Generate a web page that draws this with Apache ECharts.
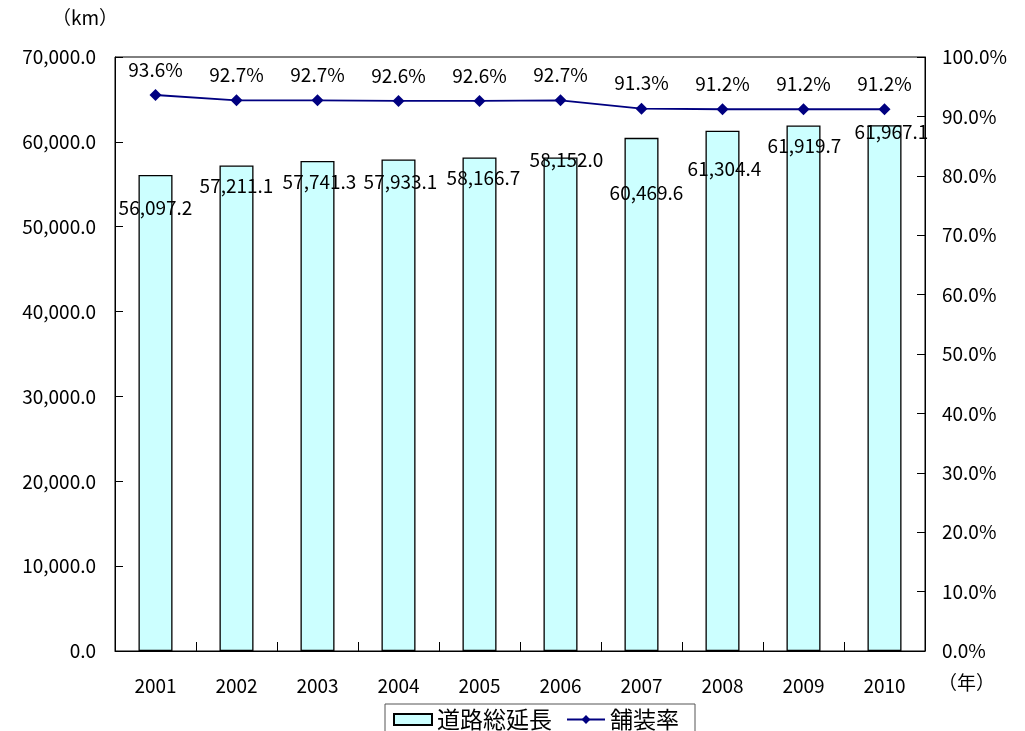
<!DOCTYPE html>
<html>
<head>
<meta charset="utf-8">
<script src="https://cdn.jsdelivr.net/npm/echarts@6/dist/echarts.min.js"></script>
<style>
  html, body { margin: 0; padding: 0; background: #fff; }
  #chart { width: 1025px; height: 731px; }
</style>
</head>
<body>
<div id="chart"></div>
<script>
// Road network length (km) and paved ratio (%) by year
const years = ['2001', '2002', '2003', '2004', '2005', '2006', '2007', '2008', '2009', '2010'];
const roadLength = [56097.2, 57211.1, 57741.3, 57933.1, 58166.7, 58152.0, 60469.6, 61304.4, 61919.7, 61967.1];
const pavedRate = [93.6, 92.7, 92.7, 92.6, 92.6, 92.7, 91.3, 91.2, 91.2, 91.2];

// Hand-placed label nudges [dx, dy] for the length labels
const lengthLabelNudge = [[0, 42], [0, 30], [2, 30], [2, 32], [4, 30], [6, 12], [5, 64], [2, 47], [1, 30], [7, 16]];

const FONT = '"Noto Sans CJK JP", "Noto Sans", sans-serif';
const NUM_SIZE = 19;

const fmtLength = v => v.toLocaleString('en-US', { minimumFractionDigits: 1, maximumFractionDigits: 1 });

const chart = echarts.init(document.getElementById('chart'), null, { renderer: 'canvas' });

chart.setOption({
  backgroundColor: '#ffffff',
  animation: false,
  textStyle: { fontFamily: FONT, color: '#000' },
  grid: {
    left: 115, right: 100, top: 57, bottom: 80,
    show: true, borderColor: '#000', borderWidth: 1, backgroundColor: 'transparent'
  },
  legend: {
    top: 704,
    left: 385,
    padding: [4, 16, 12, 8],
    itemGap: 14,
    itemWidth: 38,
    itemHeight: 11,
    borderColor: '#555',
    borderWidth: 1,
    textStyle: { fontFamily: FONT, fontSize: 23, color: '#000' },
    data: [
      { name: '道路総延長', icon: 'rect' },
      { name: '舗装率' }
    ]
  },
  xAxis: {
    type: 'category',
    data: years,
    axisLine: { lineStyle: { color: '#000', width: 1 } },
    axisTick: { show: true, inside: true, length: 9, lineStyle: { color: '#000' } },
    axisLabel: { fontSize: NUM_SIZE, color: '#000', margin: 25, fontFamily: FONT },
    splitLine: { show: false }
  },
  yAxis: [
    {
      type: 'value',
      min: 0, max: 70000, interval: 10000,
      axisLine: { show: true, lineStyle: { color: '#000' } },
      axisTick: { show: true, inside: true, length: 8, lineStyle: { color: '#000' } },
      axisLabel: { fontSize: NUM_SIZE, color: '#000', margin: 19, fontFamily: FONT, formatter: v => fmtLength(v) },
      splitLine: { show: false }
    },
    {
      type: 'value',
      min: 0, max: 100, interval: 10,
      position: 'right',
      axisLine: { show: true, lineStyle: { color: '#000' } },
      axisTick: { show: true, inside: true, length: 8, lineStyle: { color: '#000' } },
      axisLabel: { fontSize: NUM_SIZE, color: '#000', margin: 17, fontFamily: FONT, formatter: v => v.toFixed(1) + '%' },
      splitLine: { show: false }
    }
  ],
  series: [
    {
      name: '道路総延長',
      type: 'bar',
      yAxisIndex: 0,
      barWidth: '42%',
      itemStyle: { color: '#ccffff', borderColor: '#000', borderWidth: 1.3 },
      data: roadLength.map((v, i) => ({
        value: v,
        label: {
          show: true,
          position: 'top',
          distance: 0,
          offset: lengthLabelNudge[i],
          fontSize: NUM_SIZE,
          color: '#000',
          fontFamily: FONT,
          formatter: p => fmtLength(p.value)
        }
      })),
      z: 2
    },
    {
      name: '舗装率',
      type: 'line',
      yAxisIndex: 1,
      data: pavedRate,
      symbol: 'diamond',
      symbolSize: 12,
      lineStyle: { color: '#000080', width: 1.8 },
      itemStyle: { color: '#000080' },
      label: {
        show: true,
        position: 'top',
        distance: 10,
        fontSize: NUM_SIZE,
        color: '#000',
        fontFamily: FONT,
        formatter: p => p.value.toFixed(1) + '%'
      },
      z: 3
    }
  ],
  graphic: [
    { type: 'text', left: 52, top: 8, style: { text: '（km）', fontSize: 19, fill: '#000', fontFamily: FONT } },
    { type: 'text', left: 938, top: 673, style: { text: '（年）', fontSize: 19, fill: '#000', fontFamily: FONT } }
  ]
});
</script>
</body>
</html>
